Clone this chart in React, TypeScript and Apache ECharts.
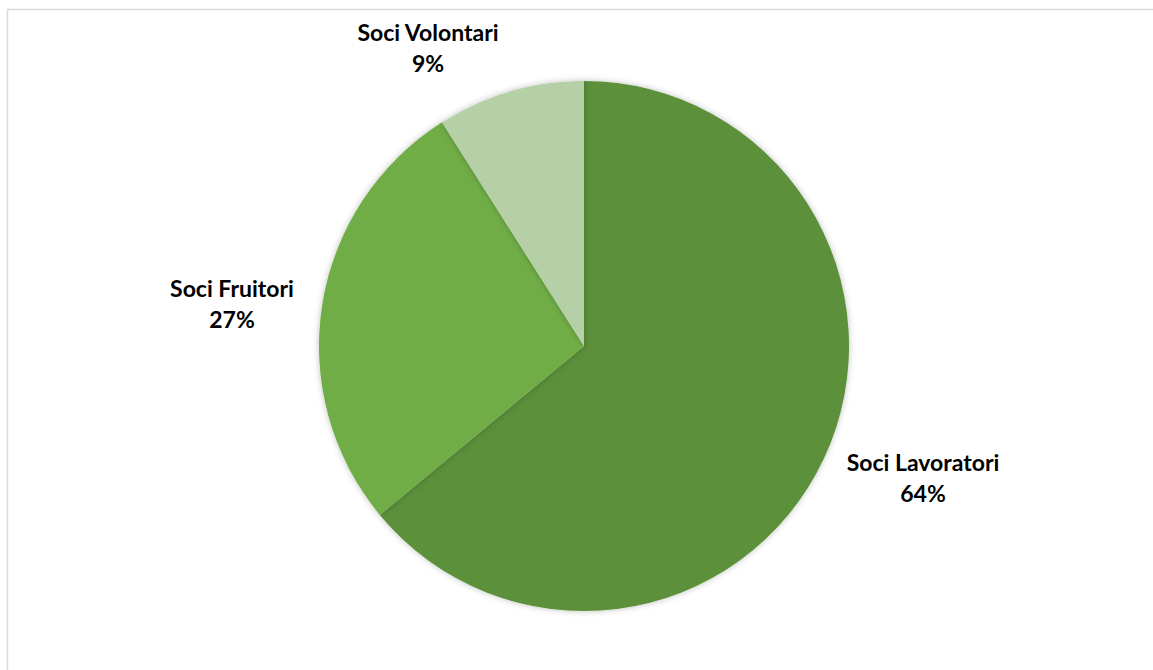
import React, { useEffect, useRef } from "react";
import * as echarts from "echarts";

const categories = ["Soci Lavoratori", "Soci Fruitori", "Soci Volontari"];
const values = [64, 27, 9];
const colors = ["#5B903A", "#70AD47", "#B5CFA6"];

// label anchor positions (best-fit placement, like the reference)
const labelPos = [
  [923, 477],
  [232, 303],
  [428, 47],
];

export default function App() {
  const ref = useRef<HTMLDivElement>(null);
  useEffect(() => {
    if (!ref.current) return;
    const chart = echarts.init(ref.current, undefined, { renderer: "svg" });
    chart.setOption({
      animation: false,
      backgroundColor: "#ffffff",
      graphic: [
        {
          type: "rect",
          shape: { x: 7.5, y: 9.5, width: 1200, height: 700 },
          style: { fill: "none", stroke: "#D9D9D9", lineWidth: 1.5 },
          silent: true,
        },
      ],
      series: [
        {
          type: "pie",
          center: [584, 346],
          radius: [0, 265],
          startAngle: 90,
          clockwise: true,
          data: categories.map((name, i) => ({
            name,
            value: values[i],
            itemStyle: { color: colors[i] },
          })),
          itemStyle: {
            borderWidth: 0,
            shadowBlur: 6,
            shadowColor: "rgba(0,0,0,0.25)",
          },
          label: {
            show: true,
            position: "outside",
            formatter: (p: any) => `${p.name}\n${p.value}%`,
            fontFamily: "Lato",
            fontWeight: "bold",
            fontSize: 23,
            lineHeight: 31,
            color: "#000000",
            align: "center",
          },
          labelLine: { show: false, length: 10, length2: 0 },
          labelLayout: (params: any) => {
            const pos = labelPos[params.dataIndex];
            return {
              x: pos[0],
              y: pos[1],
              align: "center",
              verticalAlign: "middle",
            };
          },
        },
      ],
    });
    return () => chart.dispose();
  }, []);
  return (
    <div
      ref={ref}
      style={{ position: "absolute", left: 0, top: 0, width: 1153, height: 670 }}
    />
  );
}
